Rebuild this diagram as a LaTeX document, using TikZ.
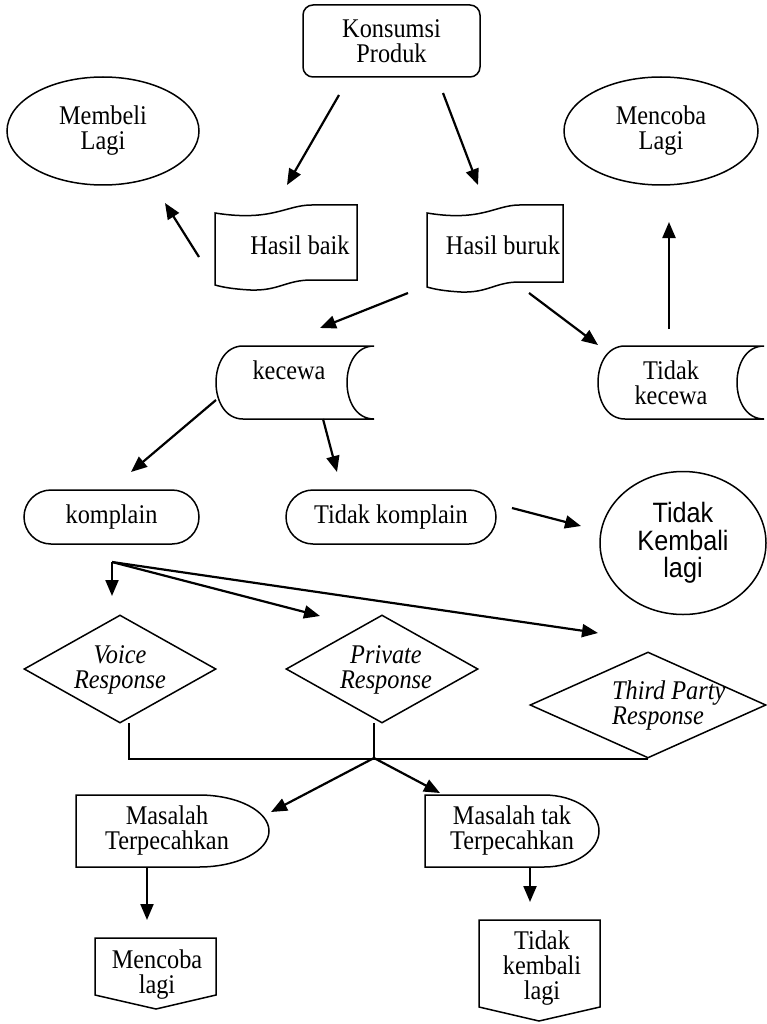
\documentclass[tikz,border=0pt]{standalone}
\usepackage{fontspec}
\setmainfont{Liberation Serif}[FakeStretch=0.9]
\newfontfamily\arialfont{Liberation Sans}[FakeStretch=0.9]
\usetikzlibrary{arrows.meta,shapes.geometric}

% punched-tape outline: left, top, right, bottom
\newcommand\tapeoutline[4]{%
  \pgfmathsetmacro\tapew{#3-#1}
  \draw[outline] (#1,#2+8) .. controls (#1+0.4*\tapew,#2+17) and (#1+0.5*\tapew,#2) .. (#1+0.68*\tapew,#2)
    -- (#3,#2) -- (#3,#4-10) -- (#1+0.68*\tapew,#4-10)
    .. controls (#1+0.5*\tapew,#4-10) and (#1+0.45*\tapew,#4+1) .. (#1+0.25*\tapew,#4)
    .. controls (#1+0.12*\tapew,#4-1) and (#1+0.05*\tapew,#4-3) .. (#1,#4-5) -- cycle;
}
% stored-data outline: left, top, right, bottom
\newcommand\storedoutline[4]{%
  \draw[outline] (#1+27,#2) -- (#3,#2) .. controls (#3-36,#2) and (#3-36,#4) .. (#3,#4)
    -- (#1+27,#4) .. controls (#1-9,#4) and (#1-9,#2) .. (#1+27,#2) -- cycle;
}
% delay outline: left, top, bottom, start of the round end, its x radius
\newcommand\delayoutline[5]{%
  \pgfmathsetmacro\delayhalf{(#3-#2)/2}
  \draw[outline] (#1,#2) -- (#4,#2)
    .. controls (#4+0.552*#5,#2) and (#4+#5,#2+\delayhalf-0.552*\delayhalf) .. (#4+#5,#2+\delayhalf)
    .. controls (#4+#5,#2+\delayhalf+0.552*\delayhalf) and (#4+0.552*#5,#3) .. (#4,#3)
    -- (#1,#3) -- cycle;
}
% off-page connector: left, top, right, side bottom, tip x, tip y
\newcommand\offpageoutline[6]{%
  \draw[outline] (#1,#2) -- (#3,#2) -- (#3,#4) -- (#5,#6) -- (#1,#4) -- cycle;
}

\begin{document}
\begin{tikzpicture}[x=1pt,y=-1pt,
  outline/.style={draw, line width=1.5pt},
  conn/.style={line width=2.2pt},
  arr/.style={conn, -{Triangle[length=16pt,width=13pt]}},
  txt/.style={font=\fontsize{27}{25}\selectfont, align=center, inner sep=0pt},
  itxt/.style={font=\fontsize{27}{25}\selectfont\itshape, align=center, inner sep=0pt},
  stxt/.style={font=\arialfont\fontsize{28}{27.5}\selectfont, align=center, inner sep=0pt},
  stadium/.style={outline, rounded corners=27pt, minimum width=#1, minimum height=54pt, txt},
  oval/.style={outline, ellipse, inner sep=0pt},
  decision/.style={outline, diamond, inner sep=0pt}
]
\fill[white] (0,0) rectangle (766,1024);
\useasboundingbox (0,0) rectangle (766,1024);

% top row
\node[outline, rounded corners=10pt, minimum width=177pt, minimum height=72pt, txt] (kons) at (391.5,41) {Konsumsi\\Produk};
\node[oval, minimum width=192pt, minimum height=108pt, txt] (beli) at (103,131) {Membeli\\Lagi};
\node[oval, minimum width=194pt, minimum height=108pt, txt] (coba) at (661,131) {Mencoba\\Lagi};

% outcomes
\tapeoutline{215}{205}{357}{290}
\node[txt] (baik) at (300,245) {Hasil baik};
\tapeoutline{427}{205}{563}{292}
\node[txt] (buruk) at (503,245) {Hasil buruk};

% feelings
\storedoutline{216}{346}{374}{419}
\node[txt] (kec) at (289,370) {kecewa};
\storedoutline{598}{346}{764}{419}
\node[txt] (tkec) at (671,382.5) {Tidak\\kecewa};

% complaint
\node[stadium=175pt] (kompl) at (111.5,517) {komplain};
\node[stadium=210pt] (tkompl) at (391,517) {Tidak komplain};
\node[oval, minimum width=166pt, minimum height=143pt, stxt] (tkl) at (683,543) {Tidak\\Kembali\\lagi};

% responses
\node[decision, minimum width=192pt, minimum height=108pt] (voice) at (120,669) {};
\node[itxt] (voicet) at (120,670) {Voice\\Response};
\node[decision, minimum width=192pt, minimum height=108pt] (priv) at (382,669) {};
\node[itxt] (privt) at (386,670) {Private\\Response};
\node[decision, minimum width=236pt, minimum height=106pt] (third) at (648,705) {};
\node[itxt, align=left, anchor=west] (thirdt) at (612,705) {Third Party\\Response};

% results
\delayoutline{76}{795}{867}{199}{70}
\node[txt] (mas1) at (167,830) {Masalah\\Terpecahkan};
\delayoutline{425}{795}{867}{544}{55}
\node[txt] (mas2) at (512,830) {Masalah tak\\Terpecahkan};

\offpageoutline{95}{938}{216}{995}{156}{1009}
\node[txt] (coba2) at (157,974.5) {Mencoba\\lagi};
\offpageoutline{479}{920}{600}{1007}{539}{1021}
\node[txt] (tkl2) at (542,968) {Tidak\\kembali\\lagi};

% connectors
\draw[arr] ([shift={(-52.5,54)}]kons.center) -- ([shift={(-13,-60)}]baik.center);
\draw[arr] ([shift={(51.5,52)}]kons.center) -- ([shift={(-25,-60)}]buruk.center);
\draw[arr] ([shift={(-101,12)}]baik.center) -- ([shift={(62,72)}]beli.center);
\draw[arr] ([shift={(-95,48)}]buruk.center) -- ([shift={(31,-42)}]kec.center);
\draw[arr] ([shift={(26,48)}]buruk.center) -- ([shift={(-73,-37.5)}]tkec.center);
\draw[arr] ([shift={(-2,-53.5)}]tkec.center) -- ([shift={(8,91)}]coba.center);
\draw[arr] ([shift={(-73,30)}]kec.center) -- ([shift={(19.5,-45)}]kompl.center);
\draw[arr] ([shift={(34,49)}]kec.center) -- ([shift={(-54,-45)}]tkompl.center);
\draw[arr] ([shift={(121,-9)}]tkompl.center) -- ([shift={(-102,-17)}]tkl.center);

\coordinate (fork) at ([shift={(0.5,45)}]kompl.center);
\draw[arr] (fork) -- ([shift={(-8,-73)}]voice.center);
\draw[arr] (fork) -- ([shift={(-62,-53)}]priv.center);
\draw[arr] (fork) -- ([shift={(-50,-72)}]third.center);

\coordinate (join) at ([shift={(-8,89)}]priv.center);
\draw[conn, line width=1.8pt] ([shift={(9,54)}]voice.center) |- (third.south);
\draw[conn, line width=1.8pt] ([shift={(-8,54)}]priv.center) -- (join);
\draw[arr] (join) -- ([shift={(104,-18)}]mas1.center);
\draw[arr] (join) -- ([shift={(-72,-37)}]mas2.center);

\draw[arr] ([shift={(-20,37)}]mas1.center) -- ([shift={(-10,-54.5)}]coba2.center);
\draw[arr] ([shift={(18,37)}]mas2.center) -- ([shift={(-12,-66)}]tkl2.center);
\end{tikzpicture}
\end{document}
